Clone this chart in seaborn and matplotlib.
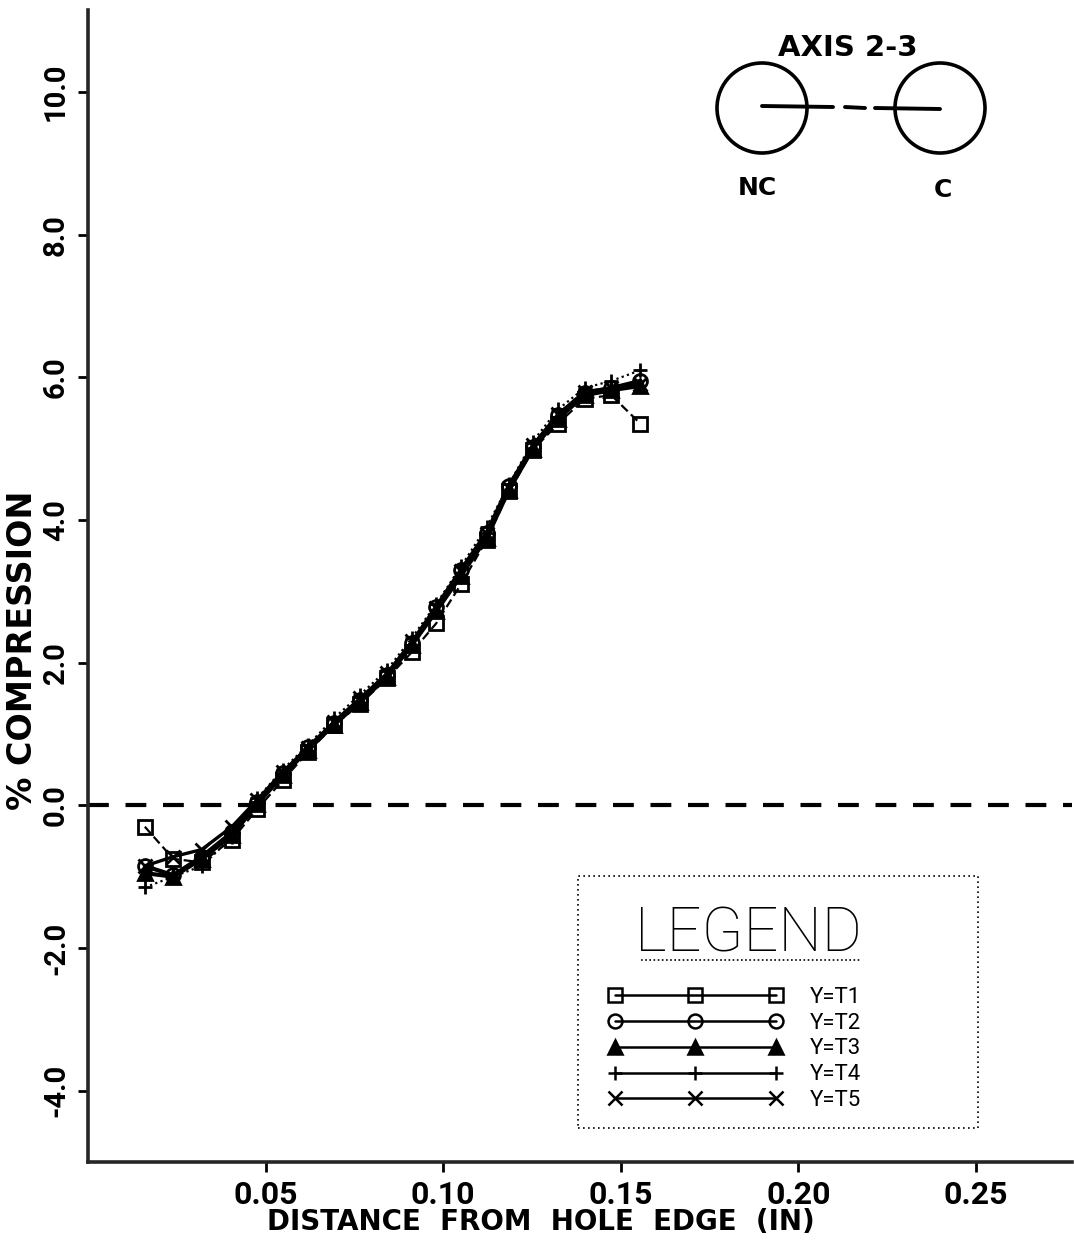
import numpy as np
import pandas as pd
import matplotlib
matplotlib.use("Agg")
import matplotlib.pyplot as plt
import matplotlib.ticker as mticker
from matplotlib.lines import Line2D
from matplotlib.patches import Circle, Rectangle
import seaborn as sns

# ============================================================
# DATA
# ============================================================
distance = [0.016, 0.024, 0.032, 0.0405, 0.0477, 0.0548, 0.0620, 0.0692, 0.0766, 0.0842,
            0.0912, 0.0980, 0.1050, 0.1122, 0.1185, 0.1252, 0.1323, 0.1398, 0.1473, 0.1555]

t1 = [-0.30, -0.75, -0.80, -0.48, -0.05, 0.35, 0.75, 1.12, 1.42, 1.78,
      2.15, 2.55, 3.10, 3.72, 4.40, 4.98, 5.35, 5.70, 5.75, 5.35]
t2 = [-0.85, -0.98, -0.72, -0.38, 0.05, 0.45, 0.82, 1.15, 1.47, 1.83,
      2.28, 2.78, 3.30, 3.82, 4.48, 5.03, 5.47, 5.78, 5.85, 5.95]
t3 = [-0.95, -1.00, -0.75, -0.42, 0.02, 0.42, 0.78, 1.13, 1.45, 1.80,
      2.25, 2.72, 3.22, 3.75, 4.42, 5.00, 5.42, 5.75, 5.82, 5.88]
t4 = [-1.15, -1.00, -0.85, -0.45, 0.10, 0.50, 0.85, 1.22, 1.55, 1.90,
      2.35, 2.82, 3.35, 3.90, 4.50, 5.10, 5.55, 5.85, 5.95, 6.10]
t5 = [-0.85, -0.72, -0.62, -0.30, 0.08, 0.47, 0.80, 1.17, 1.50, 1.85,
      2.30, 2.76, 3.28, 3.80, 4.45, 5.05, 5.48, 5.80, 5.85, 5.90]

series_names = ["Y=T1", "Y=T2", "Y=T3", "Y=T4", "Y=T5"]
x_ticks = [0.05, 0.10, 0.15, 0.20, 0.25]
y_ticks = [-4.0, -2.0, 0.0, 2.0, 4.0, 6.0, 8.0, 10.0]

df = pd.concat([pd.DataFrame({"distance": distance, "compression": v, "series": n})
                for n, v in zip(series_names, [t1, t2, t3, t4, t5])])

# ============================================================
# STYLE
# ============================================================
sns.set_style("ticks")
plt.rcParams["font.family"] = ["Roboto", "DejaVu Sans"]
plt.rcParams["text.color"] = "black"
plt.rcParams["axes.labelcolor"] = "black"
plt.rcParams["xtick.color"] = "black"
plt.rcParams["ytick.color"] = "black"

markers = {"Y=T1": "s", "Y=T2": "o", "Y=T3": "^", "Y=T4": "+", "Y=T5": "x"}
faces = {"Y=T1": "none", "Y=T2": "none", "Y=T3": "black", "Y=T4": "black", "Y=T5": "black"}
lstyles = {"Y=T1": (0, (4, 2)), "Y=T2": "-", "Y=T3": "-", "Y=T4": (0, (1, 1.5)), "Y=T5": "-"}
widths = {"Y=T1": 1.6, "Y=T2": 3.0, "Y=T3": 3.0, "Y=T4": 1.6, "Y=T5": 2.4}

fig = plt.figure(figsize=(10.74, 12.46), dpi=100)
ax = fig.add_axes([88 / 1074, 84 / 1246, 984 / 1074, 1152 / 1246])

for name in series_names:
    sub = df[df["series"] == name]
    sns.lineplot(data=sub, x="distance", y="compression", ax=ax, color="black",
                 linewidth=widths[name], linestyle=lstyles[name],
                 marker=markers[name], markersize=10, markerfacecolor=faces[name],
                 markeredgecolor="black", markeredgewidth=2.0, legend=False)

ax.axhline(0, color="black", linewidth=3, linestyle=(0, (5, 4)))

ax.set_xlim(0, 0.277)
ax.set_ylim(-5.0, 11.15)
ax.set_xticks(x_ticks)
ax.set_yticks(y_ticks)
ax.xaxis.set_major_formatter(mticker.FuncFormatter(lambda v, _: f"{v:.2f}"))
ax.yaxis.set_major_formatter(mticker.FuncFormatter(lambda v, _: f"{v:.1f}".replace("\u2212", "-")))
for s in ["top", "right"]:
    ax.spines[s].set_visible(False)
for s in ["left", "bottom"]:
    ax.spines[s].set_linewidth(2.6)
ax.tick_params(axis="both", direction="out", length=7, width=2, color="black")
ax.tick_params(axis="x", labelsize=23, pad=6)
ax.tick_params(axis="y", labelsize=21, pad=6)
for lab in ax.get_xticklabels():
    lab.set_fontweight("bold")
for lab in ax.get_yticklabels():
    lab.set_fontweight("bold")
    lab.set_rotation(90)
    lab.set_va("center")

ax.set_xlabel("DISTANCE  FROM  HOLE  EDGE  (IN)", fontsize=20, fontweight="bold",
              family=["DejaVu Sans"])
ax.set_ylabel("% COMPRESSION", fontsize=24, fontweight="bold", family=["DejaVu Sans"])
ax.xaxis.set_label_coords(0.46, -0.040)
ax.yaxis.set_label_coords(-0.050, 0.444)

# legend: dotted box, title, solid lines with three markers each
ax.add_patch(Rectangle((0.498, 0.0295), 0.406, 0.2185, transform=ax.transAxes, fill=False,
                       linestyle=(0, (1, 2)), linewidth=1.2, edgecolor="black", zorder=4))
handles = [Line2D([], [], color="black", linewidth=1.8, marker=markers[n], markersize=10,
                  markerfacecolor=faces[n], markeredgecolor="black", markeredgewidth=1.8)
           for n in series_names]
leg = ax.legend(handles, series_names, loc="upper left",
                bbox_to_anchor=(0.5285, 0.223), borderaxespad=0, borderpad=0,
                numpoints=3, handlelength=7.85, handletextpad=1.25, labelspacing=0.22,
                fontsize=16, frameon=False, title="LEGEND",
                title_fontproperties={"size": 44, "family": ["Roboto", "DejaVu Sans"],
                                      "weight": "light"})
leg._legend_box.sep = 17
leg._legend_box.align = "right"
ax.plot([0.562, 0.786], [0.175, 0.175], transform=ax.transAxes, color="black",
        linewidth=1.2, linestyle=(0, (1, 1.5)))

# AXIS 2-3 sketch (top right)
ins = fig.add_axes([700 / 1074, 1 - 215 / 1246, 300 / 1074, 200 / 1246])
ins.set_xlim(700, 1000)
ins.set_ylim(215, 15)
ins.set_aspect("equal")
ins.axis("off")
ins.add_patch(Circle((762, 108), 45, fill=False, linewidth=2.6, color="black"))
ins.add_patch(Circle((940, 108), 45, fill=False, linewidth=2.6, color="black"))
ins.plot([762, 833], [106, 107], color="black", linewidth=2.8)
ins.plot([845, 865], [107, 108], color="black", linewidth=2.8)
ins.plot([875, 940], [108, 109], color="black", linewidth=2.8)
ins.text(848, 48, "AXIS 2-3", ha="center", va="center", fontsize=21, fontweight="bold",
         family=["DejaVu Sans"])
ins.text(757, 188, "NC", ha="center", va="center", fontsize=18, fontweight="bold",
         family=["DejaVu Sans"])
ins.text(943, 190, "C", ha="center", va="center", fontsize=18, fontweight="bold",
         family=["DejaVu Sans"])

fig.savefig("out.png", dpi=100)
